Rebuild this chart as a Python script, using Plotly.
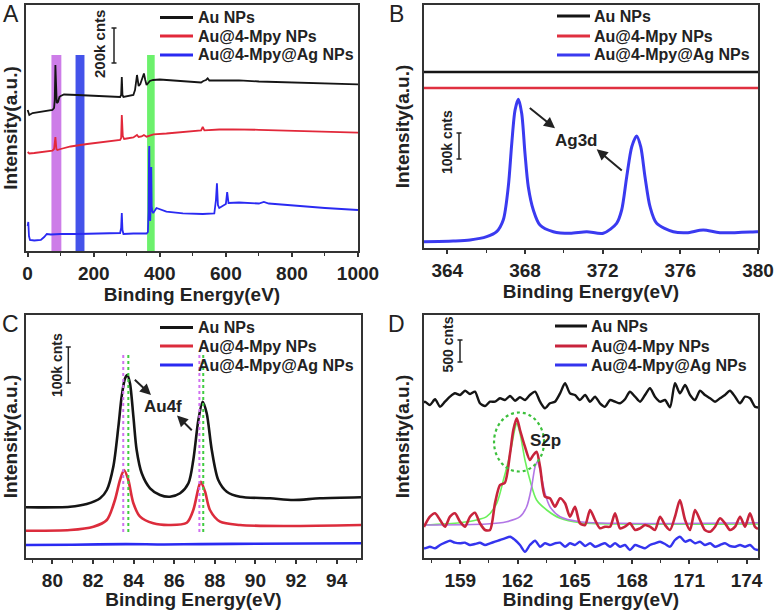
import plotly.graph_objects as go

W, H = 775, 610
FONT = "Liberation Sans, Arial, sans-serif"
TXT = "#222222"
AX = "#333333"

series_names = ["Au NPs", "Au@4-Mpy NPs", "Au@4-Mpy@Ag NPs"]
x_title = "Binding Energy(eV)"
y_title = "Intensity(a.u.)"

# ---------------- Panel A : survey spectra ----------------
a_au_x = [0, 5, 15, 40, 60, 75, 80, 82, 84, 86, 88, 92, 96, 100, 110, 150, 200, 250, 280, 283, 285, 287, 290,
          320, 325, 331, 336, 341, 348, 352, 356, 360, 370, 380, 400, 450, 500, 525, 532, 540, 545, 550, 560,
          600, 640, 700, 800, 900, 1000]
a_au_y = [141, 136, 138, 139, 140, 141, 143, 151, 186, 171, 148, 149, 154, 155, 156.5, 156, 155.5, 154.5, 154,
          156, 174, 156, 154, 156, 161, 176, 165, 167, 174, 177.5, 171, 166, 170, 171, 171.5, 170.5, 169.5,
          168.5, 170, 171, 172.7, 170.5, 170.5, 170.5, 170.7, 169.5, 168.5, 167.5, 166.7]
a_mpy_x = [0, 5, 20, 40, 60, 75, 80, 84, 87, 90, 100, 130, 180, 230, 280, 283, 285, 288, 292, 300, 320, 331,
           336, 345, 352, 360, 381, 420, 480, 525, 530, 535, 580, 620, 700, 800, 900, 1000]
a_mpy_y = [99, 97.5, 98, 99, 99.5, 100.3, 102, 114, 102, 101, 102, 104.5, 107, 109, 111, 113, 136, 115, 112,
           112.5, 113.5, 116, 114, 114.5, 116, 114.3, 116.7, 117.5, 119.3, 120.5, 124, 120.7, 121.5, 121.7,
           121.2, 120.2, 119.2, 118.3]
a_ag_x = [0, 2, 4, 7, 20, 40, 50, 58, 70, 100, 150, 200, 250, 280, 283, 285, 287, 290, 320, 360, 364, 366,
          367.5, 368.2, 369.5, 371, 373, 374.2, 375.5, 377, 380, 390, 420, 470, 530, 565, 570, 573, 576, 580,
          600, 604, 608, 640, 700, 715, 730, 800, 900, 1000]
a_ag_y = [25, 29, 15, 11, 10.5, 11, 14, 17, 16.5, 17, 17, 17.5, 17.5, 18, 23, 38, 21, 17, 17.5, 17.5, 19, 40,
          100, 105, 40, 30, 50, 84, 45, 40, 38, 43, 39.3, 37.7, 37, 37.5, 51, 67.7, 46, 43, 47, 59, 48, 48.5,
          47.5, 49, 47.5, 45.5, 43, 41]
# highlighted regions (eV)
a_bands = [(72, 102, "#c86fe6"), (145, 172, "#3040e8"), (361.5, 384.6, "#5cf05c")]
a_band_top = 196

# ---------------- Panel B : Ag3d ----------------
b_au_x = [362.8, 380.0]
b_au_y = [176, 176]
b_mpy_x = [362.8, 380.0]
b_mpy_y = [160, 160]
b_ag_x = [362.8, 364.31, 365.17, 366.03, 366.54, 366.88, 367.14, 367.32, 367.49, 367.66, 367.83, 368.00,
          368.17, 368.43, 368.77, 369.46, 370.32, 371.18, 372.03, 372.72, 372.98, 373.24, 373.50, 373.75,
          373.96, 374.18, 374.44, 374.78, 375.64, 376.33, 377.18, 378.04, 379.93, 380.0]
b_ag_y = [6.3, 7, 8, 11.3, 16.3, 28, 61.3, 104.7, 138, 148.7, 134.7, 94.7, 61.3, 38, 23, 16.3, 14.7, 16.3,
          14.7, 24.7, 38, 71.3, 101.3, 112, 101.3, 71.3, 41.3, 24.7, 16.3, 15.3, 18, 15.3, 16.3, 16.3]

# ---------------- Panel C : Au4f ----------------
c_au_x = [78.7, 80.87, 81.69, 82.35, 82.68, 83.00, 83.25, 83.41, 83.58, 83.69, 83.82, 83.99, 84.15, 84.40,
          84.81, 85.30, 85.79, 86.29, 86.70, 86.94, 87.19, 87.40, 87.60, 87.85, 88.17, 88.59, 89.24, 90.72,
          91.87, 93.18, 95.2]
c_au_y = [50.7, 51.3, 54, 59.7, 68, 91.3, 131.3, 161.3, 179.7, 183, 174.7, 141.3, 108, 84.7, 69.7, 63, 61.3,
          64.7, 74.7, 98, 138, 156.3, 144.7, 108, 78, 66.3, 61.3, 59.7, 58, 59.7, 60.7]
c_mpy_x = [78.7, 80.87, 82.02, 82.68, 83.08, 83.33, 83.53, 83.74, 83.99, 84.32, 84.97, 85.79, 86.62, 86.94,
           87.19, 87.31, 87.52, 87.76, 88.26, 89.24, 91.54, 95.2]
c_mpy_y = [27.3, 28, 31.3, 38, 58, 78, 88, 78, 54.7, 41.3, 34.7, 33, 35.3, 48, 69.7, 76.3, 66.3, 48, 36.3,
           33, 32, 33]
c_ag_x = [78.7, 81, 83.6, 85.5, 87.3, 90, 95.2]
c_ag_y = [13, 13.2, 13.9, 13.5, 13.9, 14.2, 14.8]
c_peak_pink = [83.49, 87.24]
c_peak_green = [83.74, 87.43]

# ---------------- Panel D : S2p ----------------
d_au = [(157.1, 155), (157.15, 156.3), (157.41, 153.0), (157.68, 158.7), (157.94, 151.3), (158.20, 156.3),
        (158.46, 161.3), (158.72, 164.7), (158.99, 163.0), (159.25, 167.3), (159.51, 164.0), (159.77, 166.3),
        (160.03, 154.7), (160.30, 152.0), (160.56, 156.3), (160.82, 156.3), (161.08, 159.7), (161.34, 158.0),
        (161.61, 162.0), (161.87, 157.3), (162.13, 160.7), (162.39, 158.0), (162.65, 163.0), (162.92, 166.3),
        (163.18, 156.3), (163.44, 149.7), (163.70, 154.7), (163.96, 156.3), (164.23, 164.7), (164.49, 174.7),
        (164.75, 164.7), (165.01, 163.0), (165.27, 158.0), (165.54, 163.0), (165.80, 156.3), (166.06, 161.3),
        (166.32, 154.7), (166.58, 151.3), (166.85, 158.0), (167.11, 156.3), (167.37, 154.7), (167.63, 158.7),
        (167.89, 166.3), (168.16, 161.3), (168.42, 156.3), (168.68, 163.0), (168.94, 169.7), (169.20, 161.3),
        (169.47, 156.3), (169.73, 158.0), (169.99, 150.7), (170.25, 174.7), (170.51, 164.7), (170.78, 173.0),
        (171.04, 163.0), (171.30, 158.0), (171.56, 167.3), (171.82, 163.0), (172.09, 159.7), (172.35, 156.3),
        (172.61, 159.7), (172.87, 163.0), (173.13, 167.3), (173.40, 161.3), (173.66, 154.7), (173.92, 161.3),
        (174.18, 159.7), (174.44, 151.3), (174.6, 150.5)]
d_mpy = [(157.1, 31), (157.15, 33.0), (157.41, 41.3), (157.68, 44.7), (157.94, 38.0), (158.20, 31.3),
         (158.46, 41.3), (158.72, 44.7), (158.99, 36.3), (159.25, 31.3), (159.51, 41.3), (159.77, 45.3),
         (160.03, 34.7), (160.30, 28.0), (160.56, 28.0), (160.82, 54.7), (161.08, 73.0), (161.34, 75.3),
         (161.61, 104.7), (161.78, 128.0), (161.96, 139.7), (162.13, 128.0), (162.39, 111.3), (162.65, 98.0),
         (162.83, 103.0), (163.00, 106.3), (163.18, 91.3), (163.44, 61.3), (163.70, 59.7), (163.96, 51.3),
         (164.23, 59.7), (164.49, 54.7), (164.75, 41.3), (165.01, 51.3), (165.27, 34.7), (165.54, 33.0),
         (165.80, 48.0), (166.06, 38.0), (166.32, 29.7), (166.58, 31.3), (166.85, 31.3), (167.11, 44.7),
         (167.37, 29.7), (167.63, 31.3), (167.89, 34.7), (168.16, 28.0), (168.42, 29.7), (168.68, 33.0),
         (168.94, 31.3), (169.20, 28.0), (169.47, 41.3), (169.73, 33.0), (169.99, 28.0), (170.25, 41.3),
         (170.51, 58.0), (170.78, 38.0), (171.04, 28.0), (171.30, 48.0), (171.56, 38.0), (171.82, 28.0),
         (172.09, 26.3), (172.35, 31.3), (172.61, 39.7), (172.87, 34.7), (173.13, 28.0), (173.40, 31.3),
         (173.66, 41.3), (173.92, 31.3), (174.18, 44.7), (174.44, 31.3), (174.6, 29)]
d_ag = [(157.1, 10.5), (157.15, 9.7), (157.41, 11.3), (157.68, 9.7), (157.94, 13), (158.20, 15.3), (158.46, 17.3),
        (158.72, 15.3), (158.99, 14.7), (159.25, 15.3), (159.51, 13), (159.77, 14), (160.03, 15.3),
        (160.30, 13), (160.56, 14.7), (160.82, 16.3), (161.08, 18), (161.34, 19.7), (161.61, 21.3),
        (161.87, 18), (162.13, 13), (162.39, 6.3), (162.65, 13), (162.92, 17.3), (163.18, 11.3),
        (163.44, 14.7), (163.70, 13), (163.96, 14.7), (164.23, 15.3), (164.49, 11.3), (164.75, 14.7),
        (165.01, 13), (165.27, 16.3), (165.54, 12), (165.80, 14.7), (166.06, 11.3), (166.32, 13),
        (166.58, 14.7), (166.85, 11.3), (167.11, 14.7), (167.37, 11.3), (167.63, 13), (167.89, 8),
        (168.16, 13), (168.42, 11.3), (168.68, 9.7), (168.94, 13), (169.20, 14.7), (169.47, 16.3),
        (169.73, 14), (169.99, 11.3), (170.25, 18), (170.51, 21.3), (170.78, 16.3), (171.04, 18),
        (171.30, 14.7), (171.56, 16.3), (171.82, 13), (172.09, 14.7), (172.35, 11.3), (172.61, 13),
        (172.87, 14.7), (173.13, 12), (173.40, 11.3), (173.66, 13), (173.92, 11.3), (174.18, 13),
        (174.44, 8.7), (174.6, 8)]
d_fit1 = [(157.1, 33), (158.99, 35.3), (159.86, 38), (160.38, 41.3), (160.91, 54.7), (161.26, 78),
          (161.61, 104.7), (161.87, 129.7), (161.96, 134.7), (162.13, 124.7), (162.39, 98), (162.65, 78),
          (163.00, 58), (163.53, 48), (164.23, 39.7), (165.27, 35.3), (167.37, 34), (174.6, 34)]
d_fit2 = [(157.1, 33), (160.38, 34), (161.43, 36.3), (162.13, 41.3), (162.48, 51.3), (162.74, 71.3),
          (162.92, 91.3), (163.04, 96.3), (163.18, 88), (163.44, 64.7), (163.70, 51.3), (164.23, 41.3),
          (165.27, 36.3), (167.37, 34.7), (174.6, 35.3)]

# ---------------- figure ----------------
def px(x):
    return x / W


def py(y):
    return 1 - y / H


fig = go.Figure()

COL_K, COL_R, COL_B = "#151515", "#e2283a", "#2a2af2"


def add(x, y, ax, color, width, name, shape="linear", smooth=None):
    line = dict(color=color, width=width, shape=shape)
    if smooth is not None:
        line["smoothing"] = smooth
    fig.add_trace(go.Scatter(x=x, y=y, mode="lines", line=line, name=name, showlegend=False,
                             xaxis="x" + ax, yaxis="y" + ax, hoverinfo="x+y+name"))


def unz(pairs):
    return [p[0] for p in pairs], [p[1] for p in pairs]


# A
add(a_au_x, a_au_y, "", COL_K, 1.8, series_names[0])
add(a_mpy_x, a_mpy_y, "", COL_R, 1.8, series_names[1])
add(a_ag_x, a_ag_y, "", COL_B, 1.8, series_names[2])
# B
add(b_au_x, b_au_y, "2", COL_K, 2.5, series_names[0])
add(b_mpy_x, b_mpy_y, "2", "#e03040", 2.5, series_names[1])
add(b_ag_x, b_ag_y, "2", "#3a3af0", 3, series_names[2], "spline", 0.8)
# C
add(c_au_x, c_au_y, "3", COL_K, 2.6, series_names[0], "spline", 0.8)
add(c_mpy_x, c_mpy_y, "3", "#dc2c3c", 2.6, series_names[1], "spline", 0.8)
add(c_ag_x, c_ag_y, "3", COL_B, 2.6, series_names[2], "spline", 0.8)
# D
x, y = unz(d_fit1)
add(x, y, "4", "#6cf05c", 1.6, "fit S2p3/2", "spline", 0.8)
x, y = unz(d_fit2)
add(x, y, "4", "#b276e6", 1.6, "fit S2p1/2", "spline", 0.8)
x, y = unz(d_au)
add(x, y, "4", COL_K, 2.4, series_names[0], "spline", 0.7)
x, y = unz(d_mpy)
add(x, y, "4", "#c8243c", 2.6, series_names[1], "spline", 0.7)
x, y = unz(d_ag)
add(x, y, "4", "#3434ee", 2.4, series_names[2], "spline", 0.7)

tickfont = dict(family=FONT, size=19, color=TXT, weight="bold")
titlefont = dict(family=FONT, size=19, color=TXT, weight="bold")


def xax(domain, rng, tick0, dtick, mdtick, anchor):
    return dict(domain=domain, range=rng, anchor=anchor, tick0=tick0, dtick=dtick, ticks="outside",
                ticklen=4, tickwidth=1.5, tickcolor=AX, showline=True, linecolor=AX, linewidth=1.6,
                mirror=True, showgrid=False, zeroline=False, tickfont=tickfont, automargin=False,
                title=dict(text=x_title, font=titlefont, standoff=0),
                minor=dict(dtick=mdtick, tick0=tick0, ticks="outside", ticklen=3, tickwidth=1.2,
                           tickcolor=AX, showgrid=False))


def yax(domain, rng, anchor, standoff):
    return dict(domain=domain, range=rng, anchor=anchor, showticklabels=False, ticks="", showline=True,
                linecolor=AX, linewidth=1.6, mirror=True, showgrid=False, zeroline=False, automargin=False,
                title=dict(text=y_title, font=titlefont, standoff=standoff))


dA_x, dA_y = [px(26), px(358)], [py(251), py(5)]
dB_x, dB_y = [px(424), px(758)], [py(248), py(5)]
dC_x, dC_y = [px(26), px(361)], [py(558), py(315)]
dD_x, dD_y = [px(424), px(758)], [py(558), py(315)]

fig.update_layout(
    width=W, height=H, autosize=False, margin=dict(l=0, r=0, t=0, b=0),
    paper_bgcolor="white", plot_bgcolor="white", showlegend=False,
    font=dict(family=FONT, color=TXT),
    xaxis=xax(dA_x, [-5, 1000], 0, 200, 100, "y"),
    yaxis=yax(dA_y, [0, 246], "x", 4),
    xaxis2=xax(dB_x, [362.8, 380.0], 364, 4, 2, "y2"),
    yaxis2=yax(dB_y, [0, 243], "x2", 8),
    xaxis3=xax(dC_x, [78.7, 95.2], 80, 2, 1, "y3"),
    yaxis3=yax(dC_y, [0, 243], "x3", 4),
    xaxis4=xax(dD_x, [157.1, 174.6], 159, 3, 1.5, "y4"),
    yaxis4=yax(dD_y, [0, 243], "x4", 8),
)

shapes = []
annots = []

# highlight bands in A
for x0, x1, c in a_bands:
    shapes.append(dict(type="rect", xref="x", yref="y", x0=x0, x1=x1, y0=0, y1=a_band_top,
                       fillcolor=c, line=dict(width=0), layer="below", opacity=0.9))

# dotted peak lines in C
for xv in c_peak_pink:
    shapes.append(dict(type="line", xref="x3", yref="y3", x0=xv, x1=xv, y0=26, y1=206,
                       line=dict(color="#d070f0", width=2, dash="dot")))
for xv in c_peak_green:
    shapes.append(dict(type="line", xref="x3", yref="y3", x0=xv, x1=xv, y0=26, y1=206,
                       line=dict(color="#40cc40", width=2, dash="dot")))

# dotted circle in D
shapes.append(dict(type="circle", xref="x4", yref="y4", x0=160.77, x1=163.39, y0=86.5, y1=145.5,
                   line=dict(color="#3cc03c", width=2.2, dash="dot")))

# manual legends
legend_specs = [
    (160, 193, 196, [17.5, 36, 55], [COL_K, COL_R, COL_B]),
    (557, 590, 592, [16, 36, 55], [COL_K, "#e03040", "#3a3af0"]),
    (160, 193, 196, [327.5, 346, 365], [COL_K, "#dc2c3c", COL_B]),
    (555, 587, 589, [326, 346, 365], [COL_K, "#c8243c", "#3434ee"]),
]
for lx0, lx1, tx, rows, cols in legend_specs:
    for name, ry, c in zip(series_names, rows, cols):
        shapes.append(dict(type="line", xref="paper", yref="paper", x0=px(lx0), x1=px(lx1),
                           y0=py(ry), y1=py(ry), line=dict(color=c, width=3)))
        annots.append(dict(text=name, xref="paper", yref="paper", x=px(tx), y=py(ry), xanchor="left",
                           yanchor="middle", showarrow=False,
                           font=dict(family=FONT, size=16, color=TXT, weight="bold")))

# scale bars
scale_bars = [
    (114, 28, 63, 100, 44, "200k cnts", 15),
    (459, 133, 159, 447, 142, "100k cnts", 14),
    (68.3, 347, 383, 57, 365, "100k cnts", 14),
    (460, 340, 362, 447.5, 345, "500 cnts", 14),
]
for bx, by0, by1, tx, ty, label, fs in scale_bars:
    shapes.append(dict(type="line", xref="paper", yref="paper", x0=px(bx), x1=px(bx), y0=py(by0),
                       y1=py(by1), line=dict(color=TXT, width=1.5)))
    for yy in (by0, by1):
        shapes.append(dict(type="line", xref="paper", yref="paper", x0=px(bx - 2.5), x1=px(bx + 2.5),
                           y0=py(yy), y1=py(yy), line=dict(color=TXT, width=1.5)))
    annots.append(dict(text=label, xref="paper", yref="paper", x=px(tx), y=py(ty), textangle=-90,
                       showarrow=False, xanchor="center", yanchor="middle",
                       font=dict(family=FONT, size=fs, color=TXT, weight="bold")))

# peak labels with arrows
labels = [("Ag3d", 576, 140, 17), ("Au4f", 163, 406.7, 17), ("S2p", 545, 440, 17)]
for t, lx, ly, fs in labels:
    annots.append(dict(text=t, xref="paper", yref="paper", x=px(lx), y=py(ly), showarrow=False,
                       xanchor="center", yanchor="middle",
                       font=dict(family=FONT, size=fs, color=TXT, weight="bold")))
arrows = [((528.3, 106.7), (555, 128.3)), ((623.3, 171.7), (596.7, 149.3)),
          ((133.3, 378.3), (151, 395)), ((193.3, 431.7), (177, 415.5))]
for (tx0, ty0), (hx, hy) in arrows:
    annots.append(dict(text="", xref="paper", yref="paper", x=px(hx), y=py(hy), ax=tx0 - hx, ay=ty0 - hy,
                       showarrow=True, arrowhead=2, arrowsize=1.1, arrowwidth=2, arrowcolor=TXT))

# panel letters
for t, lx, ly in [("A", 11, 14), ("B", 396, 14), ("C", 10, 323.5), ("D", 396, 323.5)]:
    annots.append(dict(text=t, xref="paper", yref="paper", x=px(lx), y=py(ly), showarrow=False,
                       xanchor="center", yanchor="middle", font=dict(family=FONT, size=23, color=TXT)))

fig.update_layout(shapes=shapes, annotations=annots)
fig.write_html("out.html", config={"displayModeBar": False},
               post_script="document.body.style.margin='0px';document.body.style.padding='0px';")
